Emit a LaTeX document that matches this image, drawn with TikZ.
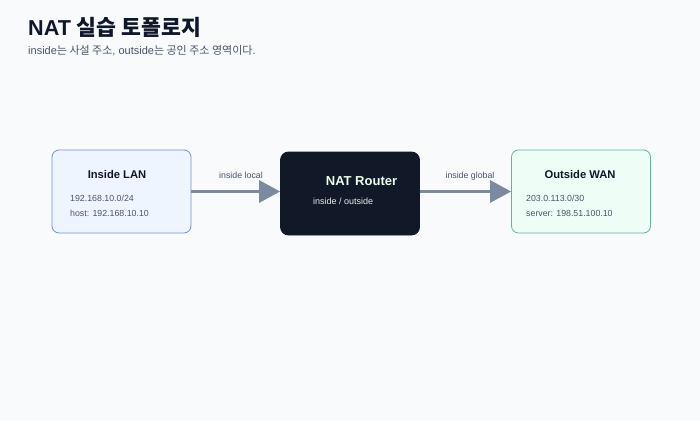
\documentclass[tikz,border=0pt]{standalone}
\usepackage{fontspec}
\setmainfont{Liberation Sans}
\newfontfamily\kr{Noto Sans CJK KR}
\usetikzlibrary{arrows.meta,positioning}
\definecolor{bgcolor}{HTML}{F8FAFC}
\definecolor{inkcolor}{HTML}{0F172A}
\definecolor{subcolor}{HTML}{475569}
\definecolor{lancolor}{HTML}{EEF5FF}
\definecolor{lanedge}{HTML}{6F93D2}
\definecolor{wancolor}{HTML}{EEFDF5}
\definecolor{wanedge}{HTML}{5DB59E}
\definecolor{routercolor}{HTML}{111827}
\definecolor{linkcolor}{HTML}{7A8AA0}
\tikzset{
	zone/.style = {
		draw, rounded corners=7pt, line width=0.8pt,
		minimum width=139pt, minimum height=83pt
	},
	zonetitle/.style = {font=\bfseries\fontsize{11.2}{13}\selectfont, text=inkcolor, anchor=base, inner sep=0pt},
	zoneline/.style = {font=\fontsize{8.8}{10}\selectfont, text=subcolor, anchor=base west, inner sep=0pt},
	link/.style = {
		-{Triangle[length=21pt,width=22pt]}, line width=3pt, draw=linkcolor
	},
	linklabel/.style = {font=\fontsize{8.8}{10}\selectfont, text=subcolor, anchor=base, inner sep=0pt}
}
\begin{document}
\begin{tikzpicture}[x=1pt, y=-1pt]
	\fill[bgcolor] (0,0) rectangle (700,420);
	\useasboundingbox (0,0) rectangle (700,420);
	% heading
	\node[anchor=base west, inner sep=0pt, text=inkcolor, font=\bfseries\fontsize{21.6}{26}\selectfont]
		(title) at (28,35) {NAT {\kr 실습 토폴로지}};
	\node[anchor=base west, inner sep=0pt, text=subcolor, font=\fontsize{11}{13}\selectfont]
		(subtitle) at (28,55) {inside{\kr 는 사설 주소}, outside{\kr 는 공인 주소 영역이다}.};
	% zones
	\node[zone, fill=lancolor, draw=lanedge] (lan) at (121.5,191.5) {};
	\node[zone, fill=routercolor, draw=routercolor, rounded corners=8pt] (router) at (350,193.5) {};
	\node[zone, fill=wancolor, draw=wanedge] (wan) at (581,191.5) {};
	% labels
	\node[zonetitle] (lantitle) at (117,178) {Inside LAN};
	\node[zoneline] (lannet) at (70,201) {192.168.10.0/24};
	\node[zoneline] (lanhost) at (70,216) {host: 192.168.10.10};
	\node[anchor=base, inner sep=0pt, font=\bfseries\fontsize{13}{15}\selectfont, text=green!8!white]
		(routertitle) at (361.5,185) {NAT Router};
	\node[anchor=base west, inner sep=0pt, font=\fontsize{9}{10}\selectfont, text=white!88!subcolor]
		(routersub) at (313,204) {inside / outside};
	\node[zonetitle] (wantitle) at (580,178) {Outside WAN};
	\node[zoneline] (wannet) at (526,201) {203.0.113.0/30};
	\node[zoneline] (wanhost) at (526,216) {server: 198.51.100.10};
	% links
	\draw[link] (lan.east) -- (lan.east -| router.west);
	\draw[link] (router.east |- lan.east) -- (wan.west);
	\node[linklabel] (locallabel) at (241,178) {inside local};
	\node[linklabel] (globallabel) at (470,178) {inside global};
\end{tikzpicture}
\end{document}
